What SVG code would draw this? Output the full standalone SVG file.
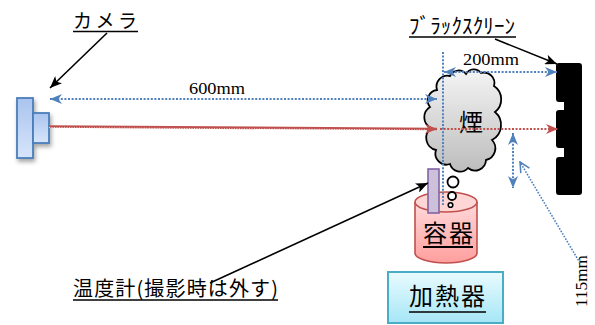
<svg xmlns="http://www.w3.org/2000/svg" width="595" height="325" viewBox="0 0 595 325">
  <style>
    .jp { font-family: "Noto Sans CJK JP", "Liberation Sans", sans-serif; fill: #000; }
    .num { font-family: "Liberation Serif", serif; fill: #000; }
    .uline { stroke: #000; stroke-width: 1.5; }
    .blue-dot { fill: none; stroke: #4f81bd; stroke-width: 2; stroke-dasharray: 2 1.6; }
    .red-dot { fill: none; stroke: #c0504d; stroke-width: 2; stroke-dasharray: 2 1.6; }
    .pointer { fill: none; stroke: #000; stroke-width: 1.6; }
  </style>
  <defs>
    <marker id="head-blue" viewBox="0 0 12 10" refX="12" refY="5" markerWidth="12" markerHeight="10" markerUnits="userSpaceOnUse" orient="auto-start-reverse">
      <path d="M0,0 L12,5 L0,10 L3.5,5 Z" fill="#4f81bd"/>
    </marker>
    <marker id="head-red" viewBox="0 0 12 10" refX="12" refY="5" markerWidth="12" markerHeight="10" markerUnits="userSpaceOnUse" orient="auto">
      <path d="M0,0 L12,5 L0,10 L3.5,5 Z" fill="#c0504d"/>
    </marker>
    <marker id="head-black" viewBox="0 0 12 10" refX="12" refY="5" markerWidth="12" markerHeight="10" markerUnits="userSpaceOnUse" orient="auto">
      <path d="M0,0 L12,5 L0,10 L3,5 Z" fill="#000"/>
    </marker>
    <marker id="head-open" viewBox="0 0 12 12" refX="11" refY="6" markerWidth="12" markerHeight="12" markerUnits="userSpaceOnUse" orient="auto">
      <path d="M1,1 L11,6 L1,11" fill="none" stroke="#4f81bd" stroke-width="1.5"/>
    </marker>
    <linearGradient id="g-camera" x1="0" y1="0" x2="0" y2="1">
      <stop offset="0" stop-color="#a9c4ee"/>
      <stop offset="1" stop-color="#d7e5fb"/>
    </linearGradient>
    <linearGradient id="g-smoke" x1="0" y1="0" x2="0" y2="1">
      <stop offset="0" stop-color="#f4f4f4"/>
      <stop offset="1" stop-color="#bdbdbd"/>
    </linearGradient>
    <linearGradient id="g-vessel" x1="0" y1="0" x2="0" y2="1">
      <stop offset="0" stop-color="#ffdada"/>
      <stop offset="1" stop-color="#ff9e9e"/>
    </linearGradient>
    <linearGradient id="g-heater" x1="0" y1="0" x2="0" y2="1">
      <stop offset="0" stop-color="#e9fbff"/>
      <stop offset="1" stop-color="#a6e6f6"/>
    </linearGradient>
    <filter id="shadow" x="-40%" y="-20%" width="180%" height="150%">
      <feDropShadow dx="1.5" dy="3" stdDeviation="2" flood-color="#000" flood-opacity="0.35"/>
    </filter>
  </defs>

  <!-- camera -->
  <g id="camera" filter="url(#shadow)">
    <rect x="17" y="98" width="16" height="60" fill="url(#g-camera)" stroke="#4a7ebb" stroke-width="1.8"/>
    <rect x="33" y="113" width="16" height="30" fill="url(#g-camera)" stroke="#4a7ebb" stroke-width="1.8"/>
  </g>

  <g id="camera-label">
    <text class="jp" x="73" y="28" font-size="19" textLength="64" lengthAdjust="spacing">カメラ</text>
    <line class="uline" x1="73" y1="31.5" x2="138" y2="31.5"/>
  </g>

  <!-- vessel (drawn first so the rising bubbles sit on its rim) -->
  <g id="container">
    <path d="M415,202 V253 A31,10 0 0 0 477,253 V202" fill="url(#g-vessel)" stroke="#c0504d" stroke-width="1.6"/>
    <ellipse cx="446" cy="202" rx="31" ry="10" fill="#ffd6d6" stroke="#c0504d" stroke-width="1.6"/>
    <text class="jp" x="448" y="242" font-size="24" text-anchor="middle" textLength="50" lengthAdjust="spacing">容器</text>
    <line x1="423" y1="247" x2="473" y2="247" stroke="#000" stroke-width="2"/>
  </g>

  <!-- smoke cloud with bubbles -->
  <g id="smoke">
    <path d="M437,90 A11,11 0 0 1 450,76 A9.5,9.5 0 0 1 466,74 A9,9 0 0 1 481,73 A10.5,10.5 0 0 1 494,86 A16,16 0 0 1 495,112 A17,17 0 0 1 492,140 A12,12 0 0 1 486,160 A11,11 0 0 1 468,168 A10.5,10.5 0 0 1 450,164 A11,11 0 0 1 436,150 A12.5,12.5 0 0 1 431,128 A12,12 0 0 1 430,107 A10.5,10.5 0 0 1 437,90 Z" fill="url(#g-smoke)" stroke="#000" stroke-width="1.8"/>
    <text class="jp" x="471" y="131" font-size="24" text-anchor="middle">煙</text>
    <circle cx="453" cy="182" r="5.5" fill="#fff" stroke="#000" stroke-width="1.8"/>
    <circle cx="452" cy="196" r="4" fill="#fff" stroke="#000" stroke-width="1.8"/>
    <circle cx="450.5" cy="205" r="2.3" fill="#fff" stroke="#000" stroke-width="1.6"/>
  </g>

  <!-- black screen -->
  <g id="screen">
    <path d="M559,63 H579 Q582,63 582,66 V192 Q582,195 579,195 H559 Q556,195 556,192 V160 Q556,157 559,157 H564 V148 H559 Q556,148 556,145 V113 Q556,110 559,110 H564 V102 H559 Q556,102 556,99 V66 Q556,63 559,63 Z" fill="#000"/>
  </g>

  <g id="screen-label">
    <text class="jp" x="409" y="33" font-size="21" textLength="106" lengthAdjust="spacing">ﾌﾞﾗｯｸｽｸﾘｰﾝ</text>
    <line class="uline" x1="409" y1="37" x2="516" y2="37"/>
  </g>

  <g id="thermometer">
    <rect x="428" y="169" width="11" height="44" fill="#ccc0da" stroke="#8064a2" stroke-width="1.6"/>
  </g>

  <g id="thermometer-label">
    <text class="jp" x="73" y="296" font-size="20" textLength="205" lengthAdjust="spacing">温度計(撮影時は外す)</text>
    <line class="uline" x1="73" y1="300" x2="278" y2="300"/>
  </g>

  <!-- heater -->
  <g id="heater">
    <rect x="388" y="272" width="115" height="51" fill="url(#g-heater)" stroke="#4bacc6" stroke-width="2"/>
    <text class="jp" x="447" y="305" font-size="24" text-anchor="middle" textLength="76" lengthAdjust="spacing">加熱器</text>
    <line class="uline" x1="409" y1="312" x2="486" y2="312"/>
  </g>

  <!-- dimension labels -->
  <g id="dimensions">
    <text class="num" x="189" y="94" font-size="17" textLength="56" lengthAdjust="spacingAndGlyphs">600mm</text>
    <text class="num" x="463" y="65" font-size="17" textLength="56" lengthAdjust="spacingAndGlyphs">200mm</text>
    <text class="num" transform="translate(587,307) rotate(-90)" x="0" y="0" font-size="17" textLength="52" lengthAdjust="spacingAndGlyphs">115mm</text>
  </g>

  <!-- connectors -->
  <g id="connectors">
    <!-- optical axis, camera to smoke -->
    <line x1="49" y1="126.5" x2="437" y2="129" stroke="#c0504d" stroke-width="2.6" marker-end="url(#head-red)"/>
    <line x1="49" y1="127.6" x2="425" y2="130" stroke="#fff" stroke-width="0.8" stroke-dasharray="1 1.5"/>
    <!-- optical axis continued to the screen -->
    <line class="red-dot" x1="440" y1="129" x2="558" y2="129" marker-end="url(#head-red)"/>
    <!-- 600mm distance -->
    <line class="blue-dot" x1="50" y1="99" x2="437" y2="99" marker-start="url(#head-blue)" marker-end="url(#head-blue)"/>
    <!-- reference line through the smoke -->
    <line class="blue-dot" x1="443" y1="52" x2="443" y2="205"/>
    <!-- 200mm distance -->
    <line class="blue-dot" x1="444" y1="72" x2="557" y2="72" marker-start="url(#head-blue)" marker-end="url(#head-blue)"/>
    <!-- 115mm height -->
    <line class="blue-dot" x1="513" y1="133" x2="513" y2="188" marker-start="url(#head-blue)" marker-end="url(#head-blue)"/>
    <line x1="580" y1="263" x2="520" y2="162" fill="none" stroke="#4f81bd" stroke-width="1.6" stroke-dasharray="1.6 1.4" marker-end="url(#head-open)"/>
    <!-- label pointers -->
    <line class="pointer" x1="107" y1="33" x2="50" y2="88" marker-end="url(#head-black)"/>
    <line class="pointer" x1="495" y1="39" x2="557" y2="64" marker-end="url(#head-black)"/>
    <line class="pointer" x1="210" y1="283" x2="428" y2="183" marker-end="url(#head-black)"/>
  </g>
</svg>
